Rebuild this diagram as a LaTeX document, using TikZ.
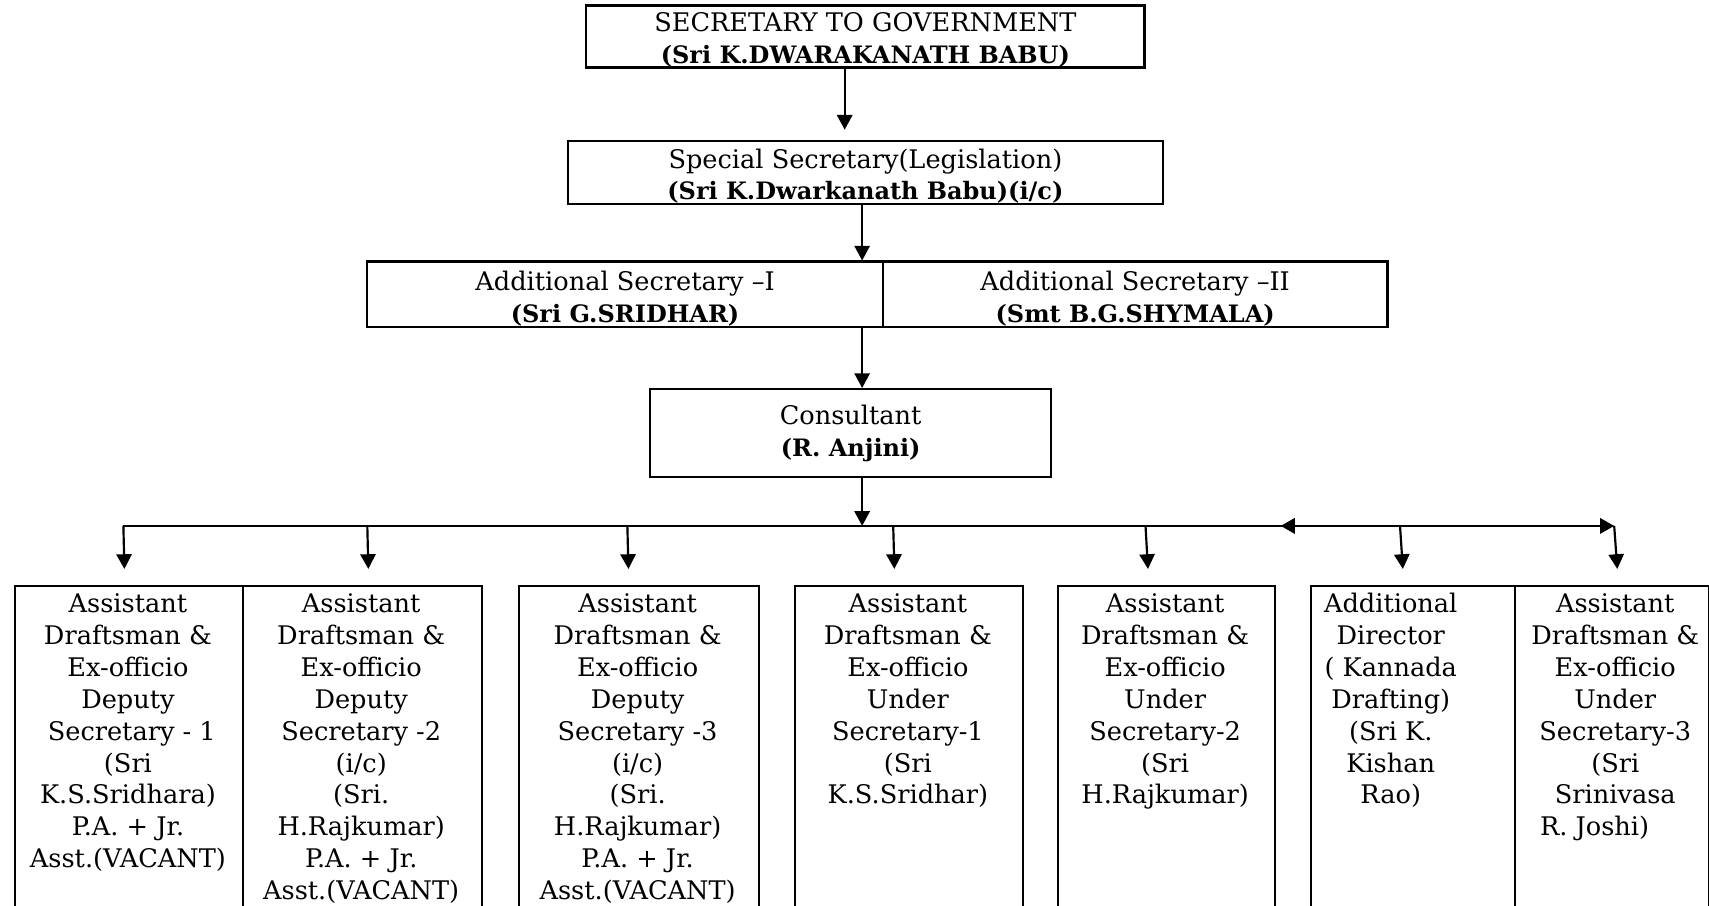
\documentclass[tikz,border=0pt]{standalone}
\usepackage{fontspec}
\setmainfont{DejaVu Serif}
\usetikzlibrary{arrows.meta,calc}
\newcommand{\bname}[1]{{\fontsize{22}{29.3}\selectfont\bfseries #1}}
\begin{document}
\begin{tikzpicture}[x=1pt,y=-1pt,
  box/.style={draw,line width=2pt,rectangle,inner sep=0pt,align=center,
    font=\fontsize{23.5}{29.3}\selectfont},
  txt/.style={align=center,inner sep=0pt,anchor=north,
    font=\fontsize{23.5}{29.3}\selectfont},
  arr/.style={line width=2pt,-{Triangle[length=13.5pt,width=14pt]}},
  busline/.style={line width=2.5pt},
  bushead/.style={line width=2.5pt,{Triangle[length=13pt,width=14pt]}-{Triangle[length=13pt,width=14pt]}},
]
\useasboundingbox (0,0) rectangle (1568,830.4);
\fill[white] (0,0) rectangle (1568,830.4);
\clip (0,0) rectangle (1568,830.4);

% top levels
\node[box,minimum width=512,minimum height=57] (sec) at (794,33.5)
  {\rule{0pt}{24pt}SECRETARY TO GOVERNMENT\\\bname{(Sri K.DWARAKANATH BABU)}};
\node[box,minimum width=546,minimum height=58] (spec) at (794,158)
  {\rule{0pt}{25pt}Special Secretary(Legislation)\\\bname{(Sri K.Dwarkanath Babu)(i/c)}};
\node[box,minimum width=473,minimum height=60] (addA) at (573.5,270)
  {\rule{0pt}{25pt}Additional Secretary –I\\\bname{(Sri G.SRIDHAR)}};
\node[box,minimum width=463,minimum height=60] (addB) at (1041.5,270)
  {\rule{0pt}{25pt}Additional Secretary –II\\\bname{(Smt B.G.SHYMALA)}};
\node[box,minimum width=368,minimum height=81] (cons) at (780.5,397.5)
  {\rule{0pt}{19pt}Consultant\\\bname{(R. Anjini)}};

% bottom boxes
\node[box,minimum width=208.7,minimum height=333,anchor=north west] (b1) at (13,536.7) {};
\node[box,minimum width=219.3,minimum height=333,anchor=north west] (b2) at (221.7,536.7) {};
\node[box,minimum width=220,minimum height=333,anchor=north west] (b3) at (475,536.7) {};
\node[box,minimum width=209.2,minimum height=333,anchor=north west] (b4) at (728.5,536.7) {};
\node[box,minimum width=198.5,minimum height=333,anchor=north west] (b5) at (970,536.7) {};
\node[box,minimum width=187.2,minimum height=333,anchor=north west] (b6) at (1201.5,536.7) {};
\node[box,minimum width=178.3,minimum height=333,anchor=north west] (b7) at (1388.7,536.7) {};

\node[txt] (t1) at (117.4,541.6) {\rule{0pt}{20pt}Assistant\\Draftsman \&\\Ex-officio\\Deputy\\\hspace*{7pt}Secretary - 1\\(Sri\\K.S.Sridhara)\\P.A. + Jr.\\Asst.(VACANT)};
\node[txt] (t2) at (331.4,541.6) {\rule{0pt}{20pt}Assistant\\Draftsman \&\\Ex-officio\\Deputy\\Secretary -2\\(i/c)\\(Sri.\\H.Rajkumar)\\P.A. + Jr.\\Asst.(VACANT)};
\node[txt] (t3) at (585,541.6) {\rule{0pt}{20pt}Assistant\\Draftsman \&\\Ex-officio\\Deputy\\Secretary -3\\(i/c)\\(Sri.\\H.Rajkumar)\\P.A. + Jr.\\Asst.(VACANT)};
\node[txt] (t4) at (833,541.6) {\rule{0pt}{20pt}Assistant\\Draftsman \&\\Ex-officio\\Under\\Secretary-1\\(Sri\\K.S.Sridhar)};
\node[txt] (t5) at (1069,541.6) {\rule{0pt}{20pt}Assistant\\Draftsman \&\\Ex-officio\\Under\\Secretary-2\\(Sri\\H.Rajkumar)};
\node[txt] (t6) at (1276,541.6) {\rule{0pt}{20pt}Additional\\Director\\( Kannada\\Drafting)\\(Sri K.\\Kishan\\Rao)};
\node[txt] (t7) at (1482,541.6) {\rule{0pt}{20pt}Assistant\\Draftsman \&\\Ex-officio\\Under\\Secretary-3\\(Sri\hspace*{38pt}\\Srinivasa\hspace*{38pt}\\R. Joshi)\hspace*{38pt}};

% connectors
\coordinate (mx) at (791,0);
\draw[arr] ($(sec.south)+(-19,0)$) -- ($(spec.north)+(-19,-9)$);
\draw[arr] (spec.south -| mx) -- (addA.north -| mx);
\draw[arr] (addA.south -| mx) -- (cons.north -| mx);
\coordinate (busL) at (113.2,482.5);
\coordinate (busM) at (1175,482.5);
\coordinate (busR) at (1481,482.5);
\draw[arr] (cons.south -| mx) -- (busL -| mx);
\draw[busline] (busL) -- ($(busM)+(5,0)$);
\draw[bushead] (busM) -- (busR);

\coordinate (d2) at (337,482.5);
\coordinate (d3) at (575.6,482.5);
\coordinate (d4) at (819.5,482.5);
\coordinate (d5) at (1051,482.5);
\coordinate (d6) at (1284.5,482.5);
\draw[arr] (busL) -- ($(b1.north)+(-4.2,-14.7)$);
\draw[arr] (d2) -- ($(b2.north)+(5.6,-14.7)$);
\draw[arr] (d3) -- ($(b3.north)+(-9.4,-14.7)$);
\draw[arr] (d4) -- ($(b4.north)+(-13.5,-14.7)$);
\draw[arr] (d5) -- ($(b5.north)+(-17,-14.7)$);
\draw[arr] (d6) -- ($(b6.north)+(-9,-14.7)$);
\draw[arr] (busR) -- ($(b7.north)+(5,-14.7)$);
\end{tikzpicture}
\end{document}
